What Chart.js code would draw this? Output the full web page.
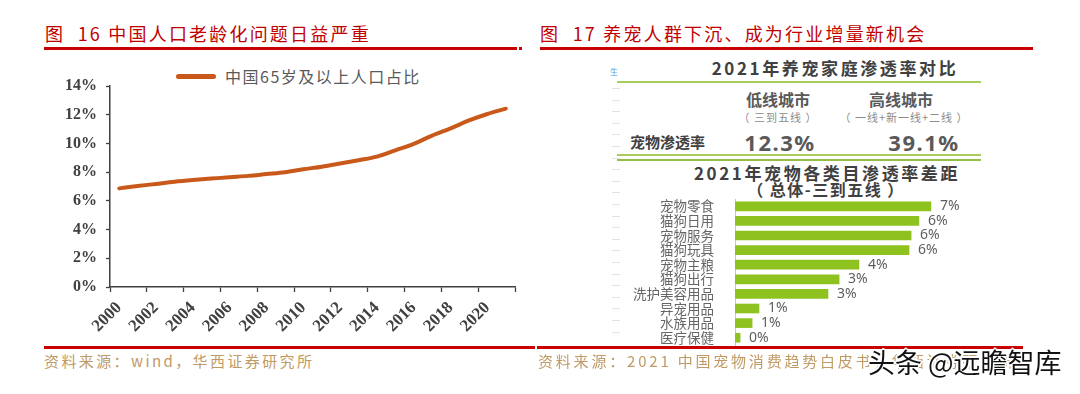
<!DOCTYPE html>
<html>
<head>
<meta charset="utf-8">
<script src="https://cdn.jsdelivr.net/npm/chart.js@4/dist/chart.umd.min.js"></script>
<style>
  body { margin: 0; background: #fff; }
  #page { position: relative; width: 1080px; height: 394px; overflow: hidden; background: #fff;
          font-family: "Noto Sans CJK SC", "Noto Sans", sans-serif; }
  .t { position: absolute; white-space: nowrap; }
  .rule { position: absolute; background: #c80000; }
  .green { position: absolute; background: #a8cd5c; height: 2px; }
  .title { color: #c00000; font-size: 18px; letter-spacing: 2.2px; line-height: 24px; }
  .src { color: #c09a64; font-size: 15px; letter-spacing: 2.4px; line-height: 20px; }
  .dash { position: absolute; left: 612px; width: 8px; height: 1px; background: #e2e2e2; }
  canvas { position: absolute; }
</style>
</head>
<body>
<div id="page">
  <!-- left panel -->
  <div class="t title" style="left:45px;top:21px;">图&nbsp; 16 中国人口老龄化问题日益严重</div>
  <div class="rule" style="left:44px;top:47px;width:473px;height:3px;"></div>
  <div class="rule" style="left:519px;top:47px;width:3px;height:3px;"></div>

  <div style="position:absolute;left:176px;top:74px;width:40px;height:5px;border-radius:3px;background:#c9591a;"></div>
  <div class="t" style="left:225px;top:65px;font-size:16px;line-height:22px;color:#595959;letter-spacing:1.5px;">中国65岁及以上人口占比</div>

  <div style="position:absolute;left:40px;top:55px;width:490px;height:290px;">
    <canvas id="lineChart" style="left:0;top:0;"></canvas>
  </div>

  <div class="rule" style="left:44px;top:346px;width:491px;height:3px;"></div>
  <div class="t src" style="left:44px;top:351px;">资料来源：wind，华西证券研究所</div>

  <!-- right panel -->
  <div class="t title" style="left:540px;top:21px;">图&nbsp; 17 养宠人群下沉、成为行业增量新机会</div>
  <div class="rule" style="left:540px;top:47px;width:493px;height:3px;"></div>

  <div class="t" style="left:610px;top:66px;font-size:8px;color:#5b9bd5;">生</div>
  <div id="dashes"></div>

  <div class="t" style="left:835px;top:56px;transform:translateX(-50%);font-size:17px;font-weight:bold;color:#404040;letter-spacing:2.6px;line-height:24px;">2021年养宠家庭渗透率对比</div>
  <div class="green" style="left:617px;top:81px;width:364px;"></div>

  <div class="t" style="left:778px;top:88px;transform:translateX(-50%);font-size:16px;font-weight:bold;color:#595959;line-height:22px;">低线城市</div>
  <div class="t" style="left:901px;top:88px;transform:translateX(-50%);font-size:16px;font-weight:bold;color:#595959;line-height:22px;">高线城市</div>
  <div class="t" style="left:778px;top:109px;transform:translateX(-50%);font-size:11px;color:#8c8c8c;line-height:17px;letter-spacing:1px;">（ 三到五线 ）</div>
  <div class="t" style="left:904px;top:109px;transform:translateX(-50%);font-size:11px;color:#8c8c8c;line-height:17px;letter-spacing:1px;">（ 一线+新一线+二线 ）</div>
  <div class="t" style="left:630px;top:131px;font-size:15px;font-weight:bold;color:#404040;line-height:22px;">宠物渗透率</div>
  <div class="t" style="left:780px;top:127px;transform:translateX(-50%);font-size:22px;font-weight:bold;color:#595959;line-height:30px;letter-spacing:1.5px;font-family:'Noto Sans',sans-serif;">12.3%</div>
  <div class="t" style="left:924px;top:127px;transform:translateX(-50%);font-size:22px;font-weight:bold;color:#595959;line-height:30px;letter-spacing:1.5px;font-family:'Noto Sans',sans-serif;">39.1%</div>
  <div class="green" style="left:617px;top:154px;width:364px;"></div>
  <div class="green" style="left:617px;top:159px;width:364px;background:#93bf45;"></div>

  <div class="t" style="left:827px;top:162px;transform:translateX(-50%);font-size:17px;font-weight:bold;color:#404040;line-height:22px;letter-spacing:2.6px;">2021年宠物各类目渗透率差距</div>
  <div class="t" style="left:826px;top:179px;transform:translateX(-50%);font-size:16px;font-weight:bold;color:#404040;line-height:21px;letter-spacing:1.5px;">（ 总体-三到五线 ）</div>

  <div style="position:absolute;left:600px;top:195px;width:380px;height:155px;">
    <canvas id="barChart" style="left:0;top:0;"></canvas>
  </div>

  <div class="rule" style="left:537px;top:346px;width:486px;height:3px;"></div>
  <div class="t src" style="left:538px;top:351px;letter-spacing:2.8px;">资料来源：2021 中国宠物消费趋势白皮书，华西证券研究所</div>

  <div class="t" style="left:868px;top:345px;font-size:27px;line-height:34px;color:#111;
       text-shadow:-2px 0 #fff,2px 0 #fff,0 -2px #fff,0 2px #fff,-1px -1px #fff,1px 1px #fff,-1px 1px #fff,1px -1px #fff;">头条 @远瞻智库</div>
</div>

<script>
// ---- figure 16: share of population aged 65+ (%) ----
var years = ['2000','2001','2002','2003','2004','2005','2006','2007','2008','2009','2010',
             '2011','2012','2013','2014','2015','2016','2017','2018','2019','2020','2021'];
var elderlyShare = [6.87, 7.03, 7.18, 7.33, 7.45, 7.55, 7.65, 7.74, 7.87, 8.0, 8.2,
                    8.38, 8.6, 8.83, 9.08, 9.52, 9.97, 10.55, 11.05, 11.6, 12.05, 12.42];
var shareMin = 0, shareMax = 14, shareStep = 2;

// ---- figure 17: category penetration gap (overall minus tier 3-5 cities, %) ----
var petCategories = ['宠物零食','猫狗日用','宠物服务','猫狗玩具','宠物主粮','猫狗出行','洗护美容用品','异宠用品','水族用品','医疗保健'];
var penetrationGap = [6.53, 6.13, 5.87, 5.8, 4.13, 3.47, 3.1, 0.8, 0.57, 0.17];

// faint marks down the left edge of the infographic
var dashes = document.getElementById('dashes');
for (var yy = 88; yy < 342; yy += 11.6) {
    var d = document.createElement('div');
    d.className = 'dash';
    d.style.top = Math.round(yy) + 'px';
    dashes.appendChild(d);
}

var axisColor = '#404040';

new Chart(document.getElementById('lineChart'), {
    type: 'line',
    data: {
        labels: years,
        datasets: [{
            label: '中国65岁及以上人口占比',
            data: elderlyShare,
            borderColor: '#c9591a',
            borderWidth: 4,
            borderCapStyle: 'round',
            pointRadius: 0,
            tension: 0.4,
            cubicInterpolationMode: 'monotone',
            fill: false
        }]
    },
    options: {
        responsive: true,
        maintainAspectRatio: false,
        animation: false,
        layout: { padding: { top: 31, right: 15, left: 0, bottom: 0 } },
        plugins: { legend: { display: false }, tooltip: { enabled: false } },
        scales: {
            x: {
                type: 'category',
                offset: true,
                afterFit: function (scale) { scale.height = 58; },
                grid: {
                    offset: true,
                    drawOnChartArea: false,
                    tickLength: 5,
                    tickWidth: 1.3,
                    tickColor: function (ctx) {
                        return (ctx.index === undefined || ctx.index % 2 === 0) ? axisColor : 'rgba(0,0,0,0)';
                    }
                },
                border: { display: true, color: axisColor, width: 1.5 },
                ticks: {
                    autoSkip: false,
                    minRotation: 45,
                    maxRotation: 45,
                    padding: 6,
                    color: axisColor,
                    font: { family: '"Liberation Serif", serif', size: 17, weight: 'bold' },
                    callback: function (val, i) { return i % 2 === 0 ? years[i] : ''; }
                }
            },
            y: {
                min: shareMin,
                max: shareMax,
                afterFit: function (scale) { scale.width = 70; },
                grid: { drawOnChartArea: false, tickLength: 4, color: axisColor, tickWidth: 1.3 },
                border: { display: true, color: axisColor, width: 1.5 },
                ticks: {
                    stepSize: shareStep,
                    padding: 9,
                    color: axisColor,
                    font: { family: '"Liberation Serif", serif', size: 16, weight: 'bold' },
                    callback: function (v) { return v + '%'; }
                }
            }
        }
    }
});

// value labels at the end of each bar
var barValueLabels = {
    id: 'barValueLabels',
    afterDatasetsDraw: function (chart) {
        var ctx = chart.ctx;
        var meta = chart.getDatasetMeta(0);
        ctx.save();
        ctx.fillStyle = '#5f5f5f';
        ctx.font = '14px "Noto Sans", sans-serif';
        ctx.textAlign = 'left';
        ctx.textBaseline = 'middle';
        meta.data.forEach(function (bar, i) {
            ctx.fillText(Math.round(penetrationGap[i]) + '%', bar.x + 9, bar.y);
        });
        ctx.restore();
    }
};

new Chart(document.getElementById('barChart'), {
    type: 'bar',
    data: {
        labels: petCategories,
        datasets: [{
            data: penetrationGap,
            backgroundColor: '#8ec31f',
            barThickness: 9
        }]
    },
    options: {
        indexAxis: 'y',
        responsive: true,
        maintainAspectRatio: false,
        animation: false,
        layout: { padding: { top: 4, right: 5, bottom: 5, left: 0 } },
        plugins: { legend: { display: false }, tooltip: { enabled: false } },
        scales: {
            x: { display: false, min: 0, max: 8 },
            y: {
                afterFit: function (scale) {
                    scale.width = 135;
                    scale.paddingTop = 0;
                    scale.paddingBottom = 0;
                },
                grid: { display: false },
                border: { display: true, color: '#c8c8c8', width: 1 },
                ticks: {
                    autoSkip: false,
                    padding: 13,
                    color: '#666',
                    font: { family: '"Noto Sans CJK SC", sans-serif', size: 13.5 }
                }
            }
        }
    },
    plugins: [barValueLabels]
});
</script>
</body>
</html>
